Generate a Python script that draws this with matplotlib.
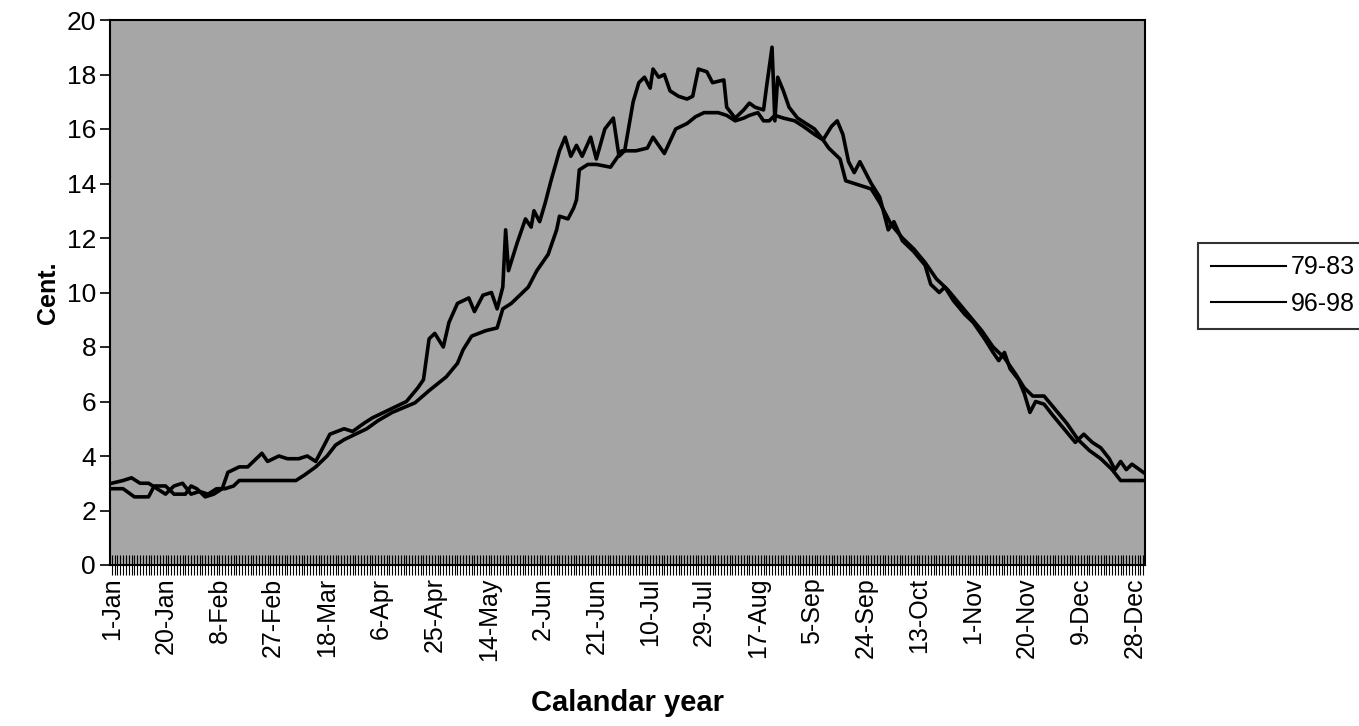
import matplotlib
matplotlib.use("Agg")
import matplotlib.pyplot as plt
import numpy as np

# ---- data (day of year, 0 = 1-Jan) ----
tick_days = [0, 19, 38, 57, 76, 95, 114, 133, 152, 171, 190, 209, 228, 247, 266, 285, 304, 323, 342, 361]
tick_labels = ["1-Jan", "20-Jan", "8-Feb", "27-Feb", "18-Mar", "6-Apr", "25-Apr", "14-May", "2-Jun",
               "21-Jun", "10-Jul", "29-Jul", "17-Aug", "5-Sep", "24-Sep", "13-Oct", "1-Nov", "20-Nov",
               "9-Dec", "28-Dec"]

days_a = [0, 4, 8, 13, 15, 19, 22, 26, 28, 30, 33, 36, 39, 41, 45, 48, 51, 53, 55, 59, 62, 66, 69, 72,
          77, 82, 85, 89, 92, 96, 100, 104, 108, 110, 112, 114, 117, 119, 122, 124, 126, 128, 131, 134,
          136, 138, 139, 140, 143, 146, 148, 149, 151, 153, 155, 158, 160, 162, 164, 166, 169, 171, 174,
          177, 179, 181, 184, 186, 188, 190, 191, 193, 195, 197, 200, 203, 205, 207, 210, 212, 216, 217,
          220, 223, 225, 227, 230, 231, 233, 234, 235, 237, 239, 242, 245, 248, 251, 254, 256, 258, 260,
          262, 264, 266, 268, 271, 274, 276, 279, 283, 287, 289, 292, 294, 297, 301, 304, 308, 311, 313,
          315, 317, 320, 322, 324, 326, 329, 332, 336, 340, 343, 346, 349, 352, 354, 356, 358, 360, 364]
vals_a = [2.8, 2.8, 2.5, 2.5, 2.9, 2.9, 2.6, 2.6, 2.9, 2.8, 2.5, 2.6, 2.8, 3.4, 3.6, 3.6, 3.9, 4.1, 3.8,
          4.0, 3.9, 3.9, 4.0, 3.8, 4.8, 5.0, 4.9, 5.2, 5.4, 5.6, 5.8, 6.0, 6.5, 6.8, 8.3, 8.5, 8.0, 8.9,
          9.6, 9.7, 9.8, 9.3, 9.9, 10.0, 9.4, 10.2, 12.3, 10.8, 11.8, 12.7, 12.4, 13.0, 12.6, 13.3, 14.1,
          15.2, 15.7, 15.0, 15.4, 15.0, 15.7, 14.9, 16.0, 16.4, 15.0, 15.2, 17.0, 17.7, 17.9, 17.5, 18.2,
          17.9, 18.0, 17.4, 17.2, 17.1, 17.2, 18.2, 18.1, 17.7, 17.8, 16.8, 16.4, 16.7, 16.95, 16.8, 16.7,
          17.5, 19.0, 16.3, 17.9, 17.4, 16.8, 16.4, 16.2, 16.0, 15.6, 16.1, 16.3, 15.8, 14.8, 14.4, 14.8,
          14.4, 14.0, 13.5, 12.3, 12.6, 11.9, 11.5, 11.0, 10.3, 10.0, 10.2, 9.7, 9.2, 8.9, 8.3, 7.8, 7.5,
          7.8, 7.2, 6.8, 6.3, 5.6, 6.0, 5.9, 5.5, 5.0, 4.5, 4.8, 4.5, 4.3, 3.9, 3.5, 3.8, 3.5, 3.7, 3.4]

days_b = [0, 4, 7, 10, 13, 16, 19, 22, 25, 28, 31, 34, 37, 40, 43, 45, 50, 55, 60, 65, 68, 72, 76, 79,
          82, 86, 90, 94, 99, 107, 112, 118, 122, 124, 127, 132, 136, 138, 141, 143, 147, 150, 154, 157,
          158, 161, 163, 164, 165, 168, 171, 176, 180, 185, 189, 191, 195, 199, 203, 206, 209, 214, 217,
          220, 223, 225, 228, 230, 232, 234, 237, 241, 244, 248, 251, 253, 257, 259, 262, 265, 268, 271,
          275, 279, 283, 287, 291, 295, 299, 303, 307, 311, 315, 319, 322, 325, 329, 333, 337, 341, 345,
          349, 353, 356, 364]
vals_b = [3.0, 3.1, 3.2, 3.0, 3.0, 2.8, 2.6, 2.9, 3.0, 2.6, 2.7, 2.6, 2.8, 2.8, 2.9, 3.1, 3.1, 3.1, 3.1,
          3.1, 3.3, 3.6, 4.0, 4.4, 4.6, 4.8, 5.0, 5.3, 5.6, 5.95, 6.4, 6.9, 7.4, 7.9, 8.4, 8.6, 8.7, 9.4,
          9.6, 9.8, 10.2, 10.8, 11.4, 12.3, 12.8, 12.7, 13.1, 13.4, 14.5, 14.7, 14.7, 14.6, 15.2, 15.2,
          15.3, 15.7, 15.1, 16.0, 16.2, 16.45, 16.6, 16.6, 16.5, 16.3, 16.4, 16.5, 16.6, 16.3, 16.3, 16.5,
          16.4, 16.3, 16.1, 15.8, 15.6, 15.3, 14.9, 14.1, 14.0, 13.9, 13.8, 13.3, 12.5, 12.0, 11.6, 11.1,
          10.5, 10.1, 9.6, 9.1, 8.6, 8.0, 7.6, 7.0, 6.5, 6.2, 6.2, 5.7, 5.2, 4.6, 4.2, 3.9, 3.5, 3.1, 3.1]

series_names = ["79-83", "96-98"]

# ---- plot ----
W, H = 1359, 726
fig = plt.figure(figsize=(W / 100, H / 100), dpi=100)
fig.patch.set_facecolor("white")
ax = fig.add_axes([110 / W, 1 - 565 / H, (1145 - 110) / W, (565 - 20) / H])
ax.set_facecolor("#a6a6a6")

font = "Liberation Sans"
ax.plot(days_b, vals_b, color="black", lw=2.6, label=series_names[0])
ax.plot(days_a, vals_a, color="black", lw=2.6, label=series_names[1])

ax.set_xlim(-0.6, 364.6)
ax.set_ylim(0, 20)
ax.set_yticks(np.arange(0, 21, 2))
ax.set_xticks(tick_days)
ax.set_xticklabels(tick_labels, rotation=90, fontsize=18, family=font)
ax.set_xticks(np.arange(0, 365, 1), minor=True)
for lab in ax.get_yticklabels():
    lab.set_fontsize(19)
    lab.set_family(font)
ax.tick_params(axis="x", which="both", direction="inout", length=14, width=0.8, pad=2)
ax.tick_params(axis="y", direction="out", length=7, width=1.2, pad=3)

for s in ax.spines.values():
    s.set_color("black")
    s.set_linewidth(1.5)

ax.set_ylabel("Cent.", fontsize=18, fontweight="bold", family=font, labelpad=5)
ax.set_xlabel("Calandar year", fontsize=21, fontweight="bold", family=font, labelpad=20)

leg = fig.legend(loc="upper left", bbox_to_anchor=(1198 / W, 1 - 243 / H),
                 frameon=True, fancybox=False, prop={"family": font, "size": 18},
                 handlelength=3.0, handletextpad=0.2, borderpad=0.5, labelspacing=0.5,
                 borderaxespad=0)
leg.get_frame().set_edgecolor("black")
leg.get_frame().set_linewidth(1.5)
for h in leg.get_lines():
    h.set_linewidth(1.5)

fig.savefig("out.png", dpi=100)
